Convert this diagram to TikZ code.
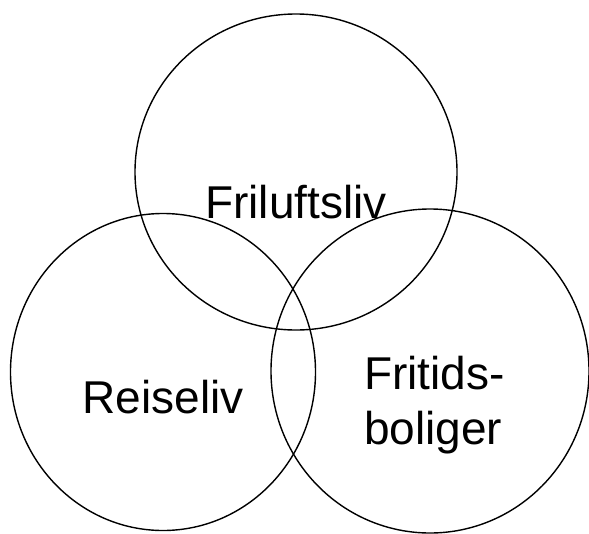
\documentclass[tikz,border=0pt]{standalone}
\usepackage{fontspec}
\setmainfont{Liberation Sans}
\usepackage{tikz}
\usetikzlibrary{shapes}
\tikzstyle{area}=[ellipse, draw
,line width=1.4pt
,inner sep=0pt
]
\tikzstyle{label text}=[inner sep=0pt, font=\fontsize{46}{55}\selectfont]

\begin{document}
\begin{tikzpicture}[x=1pt,y=-1pt]
    \useasboundingbox (0,0) rectangle (589,533);
    % First we draw the three areas
    \foreach \pos/\name/\w/\h in {{(296,172)/friluftsliv/322/316}, {(163,372)/reiseliv/305/317}, {(430,371)/fritid/318/324}}
        \node[area, minimum width=\w pt, minimum height=\h pt] (\name) at \pos {};

    % Then the labels
    \node[label text, anchor=base] (friluftsliv text) at (296,218) {Friluftsliv};
    \node[label text, anchor=base] (reiseliv text) at (163,413) {Reiseliv};
    \node[label text, anchor=base west, align=left] (fritid text) at (364,444) {Fritids-\\boliger};
\end{tikzpicture}
\end{document}
